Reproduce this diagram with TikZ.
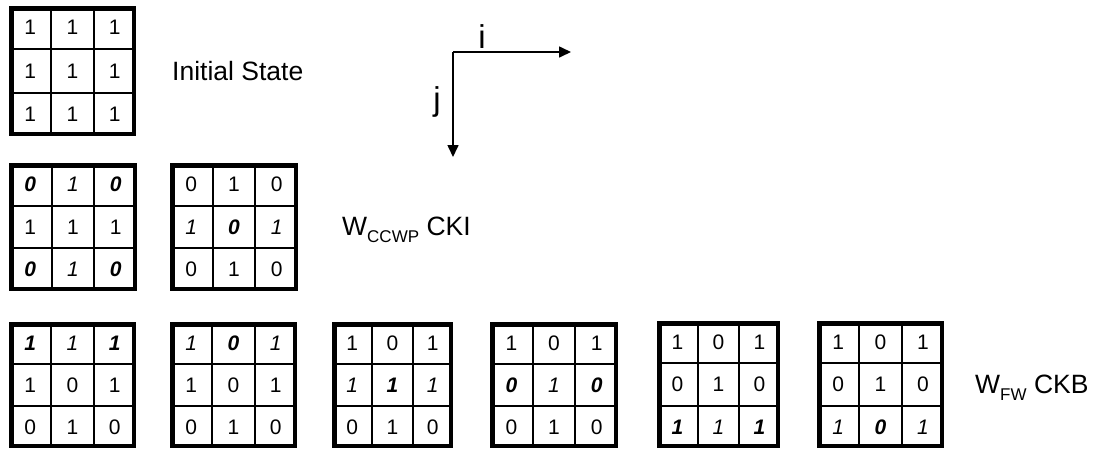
\documentclass[tikz,border=0pt]{standalone}
\usepackage{fontspec}
\setmainfont{Liberation Sans}
\usetikzlibrary{arrows.meta}
\newcommand{\BI}{\bfseries\itshape}
\newcommand{\IT}{\itshape}
\newcommand{\mysub}[1]{\raisebox{-7pt}{\fontsize{17}{17}\selectfont #1}}
\tikzset{
  gridframe/.style={draw=black, line width=4.5pt, inner sep=0pt, fill=none},
  cellline/.style={draw=black, line width=2pt},
  digit/.style={inner sep=0pt, font=\fontsize{21}{21}\selectfont},
  caption/.style={inner sep=0pt, font=\fontsize{26.5}{30}\selectfont},
  axisline/.style={draw=black, line width=1.6pt, -{Triangle[length=12pt,width=11pt]}},
  axislabel/.style={inner sep=0pt, font=\fontsize{33}{36}\selectfont},
}
% #1 name, #2 left, #3 top, #4 right, #5 bottom, #6 entries
\newcommand{\cgrid}[6]{%
  \pgfmathsetmacro\gw{#4-#2}%
  \pgfmathsetmacro\gh{#5-#3}%
  \draw[cellline] ({#2+\gw/3},#3) -- ({#2+\gw/3},#5);
  \draw[cellline] ({#2+2*\gw/3},#3) -- ({#2+2*\gw/3},#5);
  \draw[cellline] (#2,{#3+\gh/3}) -- (#4,{#3+\gh/3});
  \draw[cellline] (#2,{#3+2*\gh/3}) -- (#4,{#3+2*\gh/3});
  \node[gridframe, minimum width={\gw pt-4.5pt}, minimum height={\gh pt-4.5pt}] (#1) at ({(#2+#4)/2},{(#3+#5)/2}) {};
  \foreach \v [count=\k from 0] in {#6} {
    \pgfmathtruncatemacro\rr{\k/3}
    \pgfmathtruncatemacro\cc{mod(\k,3)}
    \node[digit] (#1-\rr\cc) at ({#2+(\cc+0.5)*\gw/3},{#3+(\rr+0.5)*\gh/3}) {\v};
  }
}
\begin{document}
\begin{tikzpicture}[x=1pt,y=-1pt]
\useasboundingbox (0,0) rectangle (1105,451);
% row 1
\cgrid{ga}{9}{6}{136}{136}{1,1,1,1,1,1,1,1,1}
\node[caption, anchor=base west] (init) at (172,80.5) {Initial State};
% axes
\coordinate (O) at (453,52);
\coordinate (iend) at (571,52);
\coordinate (jend) at (453,157);
\draw[axisline] (O) -- (iend);
\draw[axisline] (O) -- (jend);
\node[axislabel, anchor=base] (ilab) at (482,48) {i};
\node[axislabel, anchor=base] (jlab) at (437,110) {j};
% row 2
\cgrid{gb}{9}{163}{137}{291}{\BI 0,\IT 1,\BI 0,1,1,1,\BI 0,\IT 1,\BI 0}
\cgrid{gc}{170}{163}{298}{291}{0,1,0,\IT 1,\BI 0,\IT 1,0,1,0}
\node[caption, anchor=base west] (cki) at (342,235.5) {W\mysub{CCWP} CKI};
% row 3
\cgrid{gd}{9}{322}{136}{448}{\BI 1,\IT 1,\BI 1,1,0,1,0,1,0}
\cgrid{ge}{170}{322}{297}{448}{\IT 1,\BI 0,\IT 1,1,0,1,0,1,0}
\cgrid{gf}{332}{322}{453}{448}{1,0,1,\IT 1,\BI 1,\IT 1,0,1,0}
\cgrid{gg}{490}{322}{618}{448}{1,0,1,\BI 0,\IT 1,\BI 0,0,1,0}
\cgrid{gh}{657}{321}{780}{448}{1,0,1,0,1,0,\BI 1,\IT 1,\BI 1}
\cgrid{gi}{817}{321}{944}{448}{1,0,1,0,1,0,\IT 1,\BI 0,\IT 1}
\node[caption, anchor=base west] (ckb) at (975,393.5) {W\mysub{FW} CKB};
\end{tikzpicture}
\end{document}
